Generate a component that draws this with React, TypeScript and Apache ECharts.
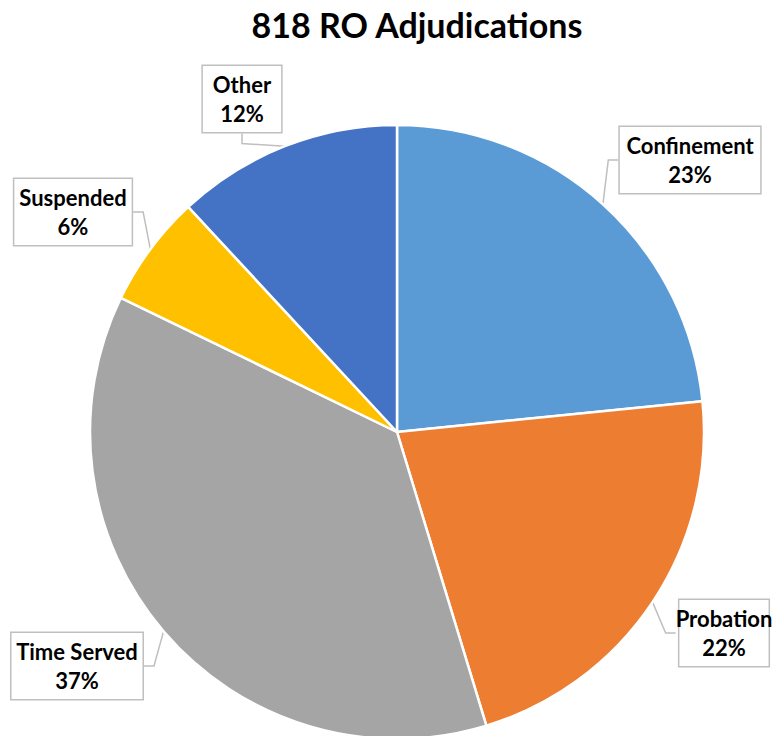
import React, { useEffect, useRef } from "react";
import * as echarts from "echarts";

const TITLE = "818 RO Adjudications";
const CATEGORIES = ["Confinement", "Probation", "Time Served", "Suspended", "Other"];
const VALUES = [23.4, 21.9, 36.9, 5.9, 11.9];
const COLORS = ["#5B9BD5", "#ED7D31", "#A5A5A5", "#FFC000", "#4472C4"];
const LABEL_POS: [number, number][] = [
  [690, 160],
  [724, 633],
  [77, 666],
  [73, 212],
  [242, 99],
];

export default function App() {
  const ref = useRef<HTMLDivElement>(null);
  useEffect(() => {
    if (!ref.current) return;
    const chart = echarts.init(ref.current, null, { renderer: "svg" });
    chart.setOption({
      animation: false,
      backgroundColor: "#ffffff",
      title: {
        text: TITLE,
        left: 412,
        top: 2,
        textAlign: "center",
        textStyle: { fontFamily: "Lato", fontWeight: "bold", fontSize: 34, color: "#000" },
      },
      series: [
        {
          type: "pie",
          center: [397, 432],
          radius: 307,
          startAngle: 90,
          clockwise: true,
          percentPrecision: 0,
          itemStyle: { borderColor: "#ffffff", borderWidth: 2.5 },
          data: CATEGORIES.map((c, i) => ({
            name: c,
            value: VALUES[i],
            itemStyle: { color: COLORS[i] },
          })),
          label: {
            show: true,
            position: "outside",
            formatter: "{b}\n{d}%",
            fontFamily: "Lato",
            fontWeight: "bold",
            fontSize: 22,
            lineHeight: 29,
            color: "#000",
            backgroundColor: "#ffffff",
            borderColor: "#bfbfbf",
            borderWidth: 1.5,
            padding: [4, 10],
            align: "center",
            overflow: "none",
          },
          labelLine: {
            show: true,
            length: 10,
            length2: 10,
            lineStyle: { color: "#bfbfbf", width: 1.5 },
          },
          labelLayout: (params: any) => {
            const p = LABEL_POS[params.dataIndex];
            return { x: p[0], y: p[1], align: "center", verticalAlign: "middle" };
          },
        },
      ],
    });
    return () => chart.dispose();
  }, []);
  return (
    <div
      ref={ref}
      style={{ position: "fixed", left: 0, top: 0, width: 775, height: 736 }}
    />
  );
}
